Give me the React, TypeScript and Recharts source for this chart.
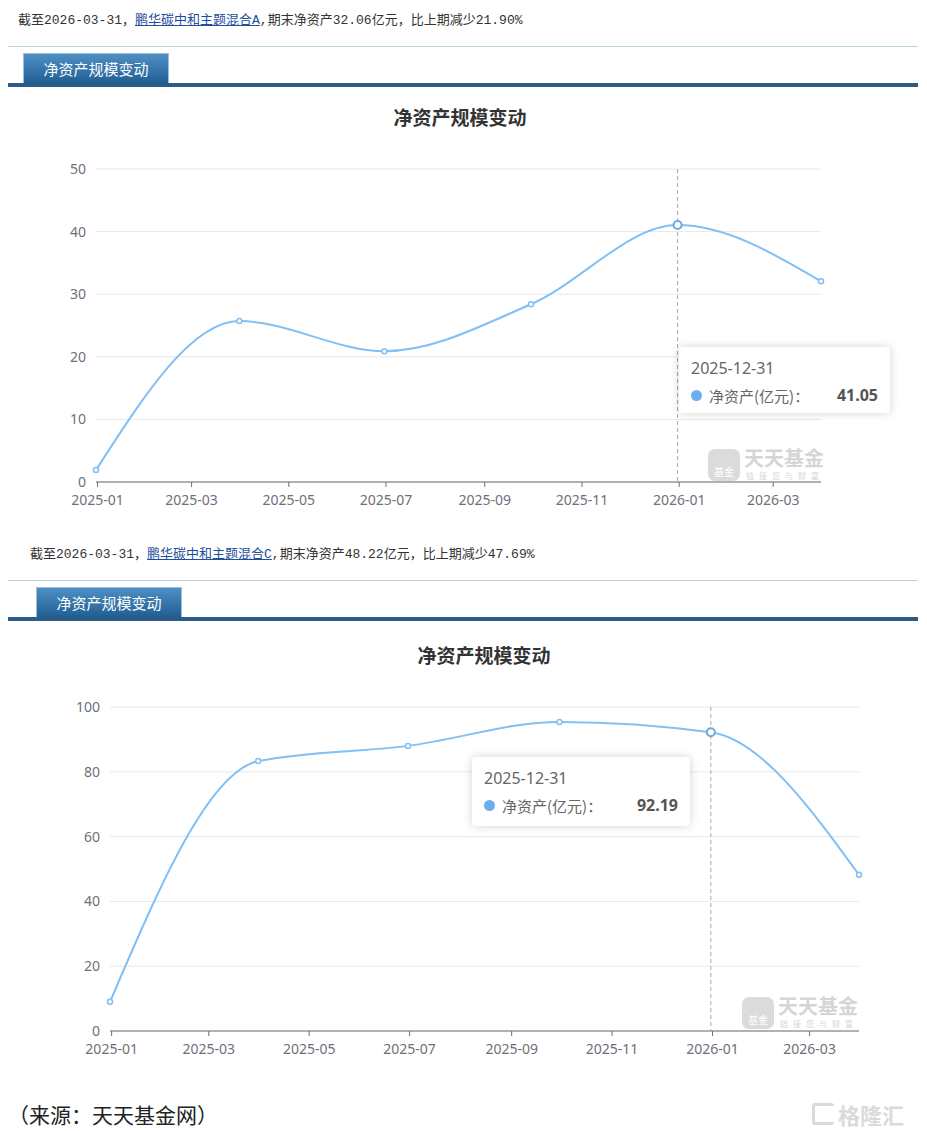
import React from 'react';
import { LineChart, Line, XAxis, YAxis, CartesianGrid, Tooltip } from 'recharts';

// 鹏华碳中和主题混合A / C 净资产（亿元）
const reportDates = ['2024-12-31', '2025-03-31', '2025-06-30', '2025-09-30', '2025-12-31', '2026-03-31'];
const assetsA = [1.9, 25.7, 20.9, 28.4, 41.05, 32.06];
const assetsC = [9.0, 83.3, 88.0, 95.4, 92.19, 48.22];
const monthTicks = ['2025-01', '2025-03', '2025-05', '2025-07', '2025-09', '2025-11', '2026-01', '2026-03'];
const yTicksA = [0, 10, 20, 30, 40, 50];
const yTicksC = [0, 20, 40, 60, 80, 100];

const toTime = (s: string) => {
  const [y, m, d] = s.split('-').map(Number);
  return Date.UTC(y, m - 1, d || 1);
};
const fmtMonth = (t: number) => {
  const d = new Date(t);
  return `${d.getUTCFullYear()}-${String(d.getUTCMonth() + 1).padStart(2, '0')}`;
};

const buildRows = (values: number[]) =>
  reportDates.map((date, i) => ({ t: toTime(date), date, value: values[i] }));

const lineColor = '#80c0f5';
const font = '"Noto Sans", "Noto Sans CJK SC", sans-serif';
const cjk = '"Noto Sans CJK SC", sans-serif';

function TipBox({ active, payload, width, height }: any) {
  if (!active || !payload || !payload.length) return null;
  const p = payload[0].payload;
  return (
    <div
      style={{
        width,
        height,
        boxSizing: 'border-box',
        background: '#fff',
        borderRadius: 4,
        boxShadow: '0 0 10px rgba(0,0,0,0.18)',
        padding: '10px 12px 0 12px',
        fontFamily: font,
        color: '#666',
      }}
    >
      <div style={{ fontSize: 16, lineHeight: '22px' }}>{p.date}</div>
      <div style={{ display: 'flex', alignItems: 'center', marginTop: 5, fontSize: 15 }}>
        <span style={{ width: 11, height: 11, borderRadius: '50%', background: '#6caef0', marginRight: 7 }} />
        <span style={{ fontFamily: cjk }}>净资产(亿元)：</span>
        <span style={{ marginLeft: 'auto', fontWeight: 700, fontSize: 16, color: '#555' }}>{p.value.toFixed(2)}</span>
      </div>
    </div>
  );
}

function Watermark({ left, top }: { left: number; top: number }) {
  return (
    <div style={{ position: 'absolute', left, top, width: 118, height: 32, opacity: 0.35 }}>
      <div
        style={{
          position: 'absolute',
          left: 0,
          top: 0,
          width: 32,
          height: 32,
          borderRadius: 7,
          background: '#9a9a9a',
          color: '#fff',
          fontFamily: cjk,
          fontSize: 10,
          lineHeight: '12px',
          textAlign: 'center',
          paddingTop: 17,
          boxSizing: 'border-box',
        }}
      >
        基金
      </div>
      <div
        style={{
          position: 'absolute',
          left: 36,
          top: -2,
          fontFamily: cjk,
          color: '#8a8a8a',
          fontSize: 20,
          fontWeight: 700,
          lineHeight: '22px',
          whiteSpace: 'nowrap',
        }}
      >
        天天基金
      </div>
      <div
        style={{
          position: 'absolute',
          left: 38,
          top: 22,
          fontFamily: cjk,
          color: '#8a8a8a',
          fontSize: 8,
          lineHeight: '9px',
          letterSpacing: 5,
          whiteSpace: 'nowrap',
        }}
      >
        链接您与财富
      </div>
    </div>
  );
}

function Header({ top, left, fund, end, change, tabLeft }: any) {
  return (
    <>
      <div
        style={{
          position: 'absolute',
          top,
          left,
          fontSize: 13,
          lineHeight: '16px',
          fontFamily: '"Liberation Mono", "Noto Sans CJK SC", monospace',
          color: '#333',
          whiteSpace: 'nowrap',
        }}
      >
        截至2026-03-31，<span style={{ color: '#1f4e9a', textDecoration: 'underline' }}>{fund}</span>,期末净资产{end}亿元，比上期减少{change}
      </div>
      <div style={{ position: 'absolute', top: top + 33, left: 8, width: 910, height: 1, background: '#b9d3e2' }} />
      <div
        style={{
          position: 'absolute',
          top: top + 40,
          left: tabLeft,
          width: 146,
          height: 31,
          boxSizing: 'border-box',
          border: '1px solid #9cc0dc',
          borderBottom: 'none',
          background: 'linear-gradient(#4f8fc4, #1f5d91)',
          color: '#fff',
          fontFamily: cjk,
          fontSize: 15,
          textAlign: 'center',
          lineHeight: '30px',
        }}
      >
        净资产规模变动
      </div>
      <div style={{ position: 'absolute', top: top + 70, left: 8, width: 910, height: 4, background: '#2b5c88' }} />
    </>
  );
}

function FundChart({ rows, yMax, yTicks, yWidth, plotRight, plotTop, plotBottom, titleX, tip, wm, xShift }: any) {
  const height = plotBottom + 40;
  const ticks = monthTicks.map(toTime);
  return (
    <div style={{ position: 'absolute', top: 0, left: 0, width: 927, height }}>
      <div
        style={{
          position: 'absolute',
          top: plotTop - 66,
          left: titleX - 100,
          width: 200,
          textAlign: 'center',
          fontFamily: cjk,
          fontSize: 19,
          fontWeight: 700,
          color: '#333',
        }}
      >
        净资产规模变动
      </div>
      <LineChart width={plotRight + 10} height={height} data={rows} margin={{ top: plotTop, right: 10, bottom: 8, left: 0 }}>
        <CartesianGrid vertical={false} stroke="#e8e8e8" />
        <XAxis
          dataKey="t"
          type="number"
          scale="time"
          domain={['dataMin', 'dataMax']}
          ticks={ticks}
          tickFormatter={fmtMonth}
          interval={0}
          height={32}
          stroke="#6e7079"
          tick={{ fill: '#6e7079', fontSize: 14, fontFamily: font, dy: xShift }}
          tickSize={5}
          tickMargin={2}
        />
        <YAxis
          domain={[0, yMax]}
          ticks={yTicks}
          width={yWidth}
          axisLine={false}
          tickLine={false}
          tick={{ fill: '#6e7079', fontSize: 14, fontFamily: font }}
          tickMargin={4}
        />
        <Tooltip
          defaultIndex={4}
          active
          position={{ x: tip.x, y: tip.y }}
          cursor={{ stroke: '#aaa', strokeWidth: 1, strokeDasharray: '4 3' }}
          content={<TipBox width={tip.w} height={tip.h} />}
          isAnimationActive={false}
          wrapperStyle={{ outline: 'none' }}
        />
        <Line
          type="monotone"
          dataKey="value"
          stroke={lineColor}
          strokeWidth={2}
          dot={{ r: 2.5, fill: '#fff', stroke: lineColor, strokeWidth: 1.5 }}
          activeDot={{ r: 4, fill: '#fff', stroke: '#6fa8e0', strokeWidth: 2 }}
          isAnimationActive={false}
        />
      </LineChart>
      <Watermark left={wm.x} top={wm.y} />
    </div>
  );
}

export default function App() {
  const rowsA = buildRows(assetsA);
  const rowsC = buildRows(assetsC);
  return (
    <div style={{ position: 'absolute', left: 0, top: 0, width: 927, height: 1131, background: '#fff', overflow: 'hidden' }}>
      <Header top={13} left={18} fund="鹏华碳中和主题混合A" end="32.06" change="21.90%" tabLeft={23} />
      <FundChart
        rows={rowsA}
        yMax={50}
        yTicks={yTicksA}
        yWidth={96}
        plotRight={821}
        plotTop={169}
        plotBottom={482}
        titleX={460}
        tip={{ x: 679, y: 347, w: 211, h: 66 }}
        wm={{ x: 708, y: 449 }}
        xShift={6}
      />
      <Header top={547} left={30} fund="鹏华碳中和主题混合C" end="48.22" change="47.69%" tabLeft={36} />
      <FundChart
        rows={rowsC}
        yMax={100}
        yTicks={yTicksC}
        yWidth={110}
        plotRight={859}
        plotTop={707}
        plotBottom={1031}
        titleX={484}
        tip={{ x: 472, y: 757, w: 218, h: 69 }}
        wm={{ x: 742, y: 997 }}
        xShift={6}
      />
      <div style={{ position: 'absolute', left: 8, top: 1100, fontFamily: cjk, fontSize: 21, lineHeight: '28px', color: '#222' }}>
        （来源：天天基金网）
      </div>
      <div
        style={{
          position: 'absolute',
          left: 812,
          top: 1098,
          display: 'flex',
          alignItems: 'center',
          fontFamily: cjk,
          fontSize: 22,
          fontWeight: 700,
          color: '#dadada',
        }}
      >
        <span
          style={{
            width: 22,
            height: 22,
            border: '3px solid #dadada',
            borderRight: 'none',
            boxSizing: 'border-box',
            borderRadius: 3,
            marginRight: 4,
          }}
        />
        格隆汇
      </div>
    </div>
  );
}
